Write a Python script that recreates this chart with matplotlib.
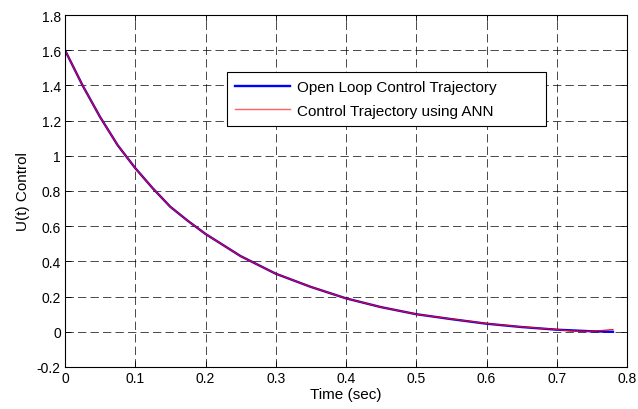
import matplotlib
matplotlib.use("Agg")
import matplotlib.pyplot as plt

plt.rcParams['font.family'] = ['Liberation Sans', 'DejaVu Sans']
plt.rcParams['lines.scale_dashes'] = False

# Open loop control trajectory
t_open = [0.0, 0.025, 0.05, 0.075, 0.1, 0.125, 0.15, 0.175, 0.2, 0.25, 0.3,
          0.35, 0.4, 0.45, 0.5, 0.55, 0.6, 0.65, 0.7, 0.75, 0.78]
u_open = [1.6, 1.40, 1.22, 1.06, 0.93, 0.815, 0.71, 0.63, 0.556, 0.43, 0.33,
          0.255, 0.19, 0.14, 0.10, 0.072, 0.046, 0.027, 0.012, 0.003, 0.0]

# Control trajectory using ANN
t_ann = [0.0, 0.025, 0.05, 0.075, 0.1, 0.125, 0.15, 0.175, 0.2, 0.25, 0.3,
         0.35, 0.4, 0.45, 0.5, 0.55, 0.6, 0.65, 0.7, 0.72, 0.75, 0.78]
u_ann = [1.6, 1.40, 1.22, 1.06, 0.93, 0.815, 0.71, 0.63, 0.556, 0.43, 0.33,
         0.255, 0.19, 0.14, 0.10, 0.073, 0.047, 0.028, 0.013, 0.005, 0.003, 0.013]

xticks = [0, 0.1, 0.2, 0.3, 0.4, 0.5, 0.6, 0.7, 0.8]
xticklabels = ['0', '0.1', '0.2', '0.3', '0.4', '0.5', '0.6', '0.7', '0.8']
yticks = [-0.2, 0, 0.2, 0.4, 0.6, 0.8, 1.0, 1.2, 1.4, 1.6, 1.8]
yticklabels = ['-0.2', '0', '0.2', '0.4', '0.6', '0.8', '1', '1.2', '1.4', '1.6', '1.8']

fig = plt.figure(figsize=(6.38, 4.10), dpi=100)
ax = fig.add_axes([65/638, 1 - 368/410, 562/638, 352/410])

ax.plot(t_open, u_open, color='#0000ff', lw=1.7, label='Open Loop Control Trajectory')
ax.plot(t_ann, u_ann, color='#ff0000', lw=0.8, label='Control Trajectory using ANN')

ax.set_xlim(0, 0.8)
ax.set_ylim(-0.2, 1.8)
ax.set_xticks(xticks)
ax.set_xticklabels(xticklabels)
ax.set_yticks(yticks)
ax.set_yticklabels(yticklabels)
ax.tick_params(direction='in', top=True, right=True, length=4, width=0.6,
               labelsize=10, pad=3)
ax.grid(True, color='k', linestyle=(0, (6, 3)), linewidth=0.5)
for s in ax.spines.values():
    s.set_linewidth(0.8)

ax.set_xlabel('Time (sec)', fontsize=11, labelpad=1)
ax.set_ylabel('U(t) Control', fontsize=11, labelpad=5)

x0 = (227 - 65) / 562
x1 = (546 - 65) / 562
ytop = (368 - 73) / 352
ybot = (368 - 126) / 352
leg = ax.legend(loc='upper left', bbox_to_anchor=(x0, ybot, x1 - x0, ytop - ybot),
                mode='expand', borderaxespad=0, fontsize=11, frameon=True,
                fancybox=False, edgecolor='k', framealpha=1, handlelength=3.6,
                handletextpad=0.45, borderpad=0.55, labelspacing=0.6)
leg.get_frame().set_linewidth(0.8)
leg.get_lines()[1].set_color('#ff6060')
leg.get_lines()[1].set_linewidth(1.0)

fig.savefig('out.png', dpi=100)
